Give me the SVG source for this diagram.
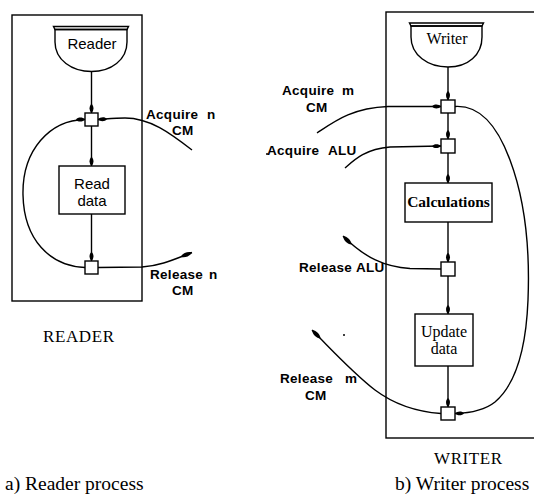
<svg xmlns="http://www.w3.org/2000/svg" width="534" height="494" viewBox="0 0 534 494">
  <style>
    .ln { fill: none; stroke: #000; stroke-width: 1.4; }
    .bx { fill: #fff; stroke: #000; stroke-width: 1.4; }
    .lbl { font-family: "Liberation Sans", Arial, sans-serif; font-weight: bold; font-size: 13.5px; letter-spacing: 0.3px; fill: #000; }
    .sans { font-family: "Liberation Sans", Arial, sans-serif; font-size: 15px; fill: #000; text-anchor: middle; }
    .serif { font-family: "Liberation Serif", "Times New Roman", serif; fill: #000; }
  </style>
  <defs>
    <!-- narrow filled arrowhead, tip at the path end -->
    <marker id="arr" viewBox="-10 -3 11 6" refX="0" refY="0" markerWidth="11" markerHeight="6" markerUnits="userSpaceOnUse" orient="auto">
      <path d="M-9,0 C-7,-2.8 -2,-2.4 0,0 C-2,2.4 -7,2.8 -9,0 Z" fill="#000"/>
    </marker>
    <!-- long tear-shaped head at the free end of release curves -->
    <marker id="tear" viewBox="-13 -3 14 6" refX="0" refY="0" markerWidth="14" markerHeight="6" markerUnits="userSpaceOnUse" orient="auto">
      <path d="M-12,0 C-9,-2.9 -3,-2.7 0,0 C-3,2.7 -9,2.9 -12,0 Z" fill="#000"/>
    </marker>
  </defs>

  <!-- ===== a) Reader process ===== -->
  <g id="reader-frame">
    <rect class="ln" x="12" y="15" width="130" height="286"/>
  </g>
  <g id="reader-head">
    <path class="bx" d="M55,29.5 L55,42 C55,60 72,71.5 91.5,71.5 C111,71.5 127,60 127,42 L127,29.5 Z"/>
    <path class="ln" d="M53.5,26.5 L128.5,26.5 L127,29.5 L55,29.5 Z"/>
    <text class="sans" x="92" y="49">Reader</text>
  </g>
  <g id="reader-acquire">
    <rect class="bx" x="85" y="113" width="13" height="13"/>
  </g>
  <g id="reader-read">
    <rect class="bx" x="59" y="166" width="66" height="48"/>
    <text class="sans" x="92" y="189" font-size="14">Read</text>
    <text class="sans" x="92" y="206" font-size="14">data</text>
  </g>
  <g id="reader-release">
    <rect class="bx" x="85" y="261" width="13" height="13"/>
  </g>
  <g id="reader-labels">
    <text class="lbl" x="146" y="119">Acquire<tspan x="207">n</tspan></text>
    <text class="lbl" x="172" y="135">CM</text>
    <text class="lbl" x="150" y="279">Release<tspan x="209">n</tspan></text>
    <text class="lbl" x="172" y="295">CM</text>
    <text class="serif" x="43" y="342" font-size="17" letter-spacing="0.6">READER</text>
  </g>

  <!-- ===== b) Writer process ===== -->
  <g id="writer-frame">
    <rect class="ln" x="386" y="12" width="170" height="426"/>
  </g>
  <g id="writer-head">
    <path class="bx" d="M411,26 L411,37 C411,55 428,67 448,67 C468,67 482,55 482,37 L482,26 Z"/>
    <path class="ln" d="M409.5,23 L483.5,23 L482,26 L411,26 Z"/>
    <text class="serif" x="447" y="44" font-size="16" text-anchor="middle">Writer</text>
  </g>
  <g id="writer-acquire-cm">
    <rect class="bx" x="441" y="100" width="14" height="13"/>
  </g>
  <g id="writer-acquire-alu">
    <rect class="bx" x="441" y="139" width="14" height="14"/>
  </g>
  <g id="writer-calc">
    <rect class="bx" x="405" y="183" width="87" height="39"/>
    <text class="serif" x="448.5" y="207" font-size="15.5" font-weight="bold" text-anchor="middle">Calculations</text>
  </g>
  <g id="writer-release-alu">
    <rect class="bx" x="441" y="262" width="14" height="14"/>
  </g>
  <g id="writer-update">
    <rect class="bx" x="415" y="314" width="58" height="52"/>
    <text class="serif" x="444" y="337" font-size="16" text-anchor="middle">Update</text>
    <text class="serif" x="444" y="354" font-size="16" text-anchor="middle">data</text>
  </g>
  <g id="writer-release-cm">
    <rect class="bx" x="441" y="407" width="14" height="13"/>
  </g>
  <g id="writer-labels">
    <text class="lbl" x="282" y="95">Acquire<tspan x="342">m</tspan></text>
    <text class="lbl" x="306" y="112">CM</text>
    <text class="lbl" x="267" y="155">Acquire<tspan x="328">ALU</tspan></text>
    <text class="lbl" x="299" y="272">Release<tspan x="356">ALU</tspan></text>
    <text class="lbl" x="280" y="383">Release<tspan x="345">m</tspan></text>
    <text class="lbl" x="305" y="400">CM</text>
    <text class="serif" x="434" y="464" font-size="17" letter-spacing="0.6">WRITER</text>
  </g>

  <!-- ===== connectors ===== -->
  <g id="connectors">
    <!-- reader flow -->
    <path class="ln" d="M91.5,71.5 L91.5,113" marker-end="url(#arr)"/>
    <path class="ln" d="M91.5,126 L91.5,166" marker-end="url(#arr)"/>
    <path class="ln" d="M91.5,214 L91.5,261" marker-end="url(#arr)"/>
    <path class="ln" d="M85,267.5 C50,266 24,240 23,195 C22,150 50,120 85,119.5" marker-end="url(#arr)"/>
    <path class="ln" d="M192,150 C170,133 150,118 125,118 C115,118 106,119 98,119.5" marker-end="url(#arr)"/>
    <path class="ln" d="M98,267.5 L142,267 C160,266 175,259 192,252.5" marker-end="url(#tear)"/>

    <!-- writer flow -->
    <path class="ln" d="M448,67 L448,100" marker-end="url(#arr)"/>
    <path class="ln" d="M448,113 L448,139" marker-end="url(#arr)"/>
    <path class="ln" d="M448,153 L448,183" marker-end="url(#arr)"/>
    <path class="ln" d="M448,222 L448,262" marker-end="url(#arr)"/>
    <path class="ln" d="M448,276 L448,314" marker-end="url(#arr)"/>
    <path class="ln" d="M448,366 L448,407" marker-end="url(#arr)"/>
    <path class="ln" d="M317,133 C335,121 352,108 388,106.5 L441,106.5" marker-end="url(#arr)"/>
    <path class="ln" d="M345,168 C354,160 365,149 390,147 L441,146" marker-end="url(#arr)"/>
    <path class="ln" d="M455,106.5 C480,105 497,125 510,160 C525,200 530,250 528,300 C526,350 515,385 495,402 C485,410 472,413 455,413.5" marker-end="url(#arr)"/>
    <path class="ln" d="M441,269 L410,268.5 C385,267 365,258 343,236" marker-end="url(#tear)"/>
    <path class="ln" d="M441,413.5 C420,412 395,405 375,390 C352,372 334,352 312,330" marker-end="url(#tear)"/>
  </g>

  <!-- stray specks -->
  <g id="specks">
    <circle cx="267" cy="154" r="1" fill="#000"/>
    <circle cx="344" cy="335" r="1" fill="#000"/>
  </g>

  <!-- captions -->
  <g id="captions">
    <text class="serif" x="5" y="490" font-size="19.5">a) Reader process</text>
    <text class="serif" x="395" y="490" font-size="19.5">b) Writer process</text>
  </g>
</svg>
